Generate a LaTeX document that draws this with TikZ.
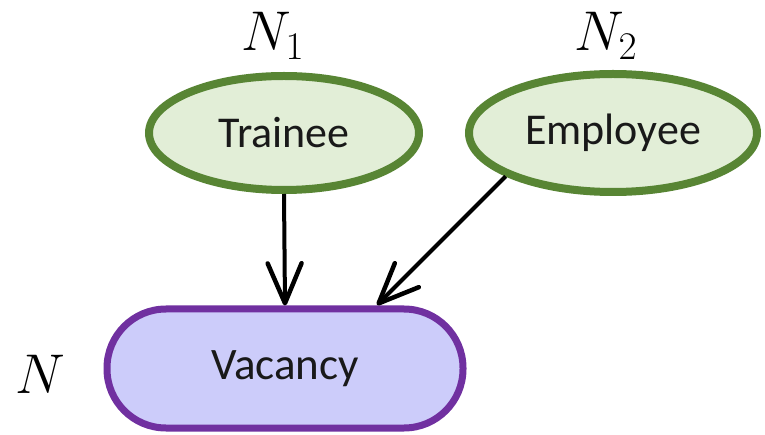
\documentclass[tikz,border=0pt]{standalone}
\usepackage{fix-cm}
\usepackage{fontspec}
\setmainfont{Carlito}
\usetikzlibrary{shapes.geometric,arrows.meta}

\definecolor{leafline}{RGB}{88,133,52}
\definecolor{leaffill}{RGB}{226,238,215}
\definecolor{vacline}{RGB}{112,48,160}
\definecolor{vacfill}{RGB}{204,204,250}
\definecolor{ink}{RGB}{25,25,25}

\tikzset{
  parentnode/.style={ellipse, draw=leafline, fill=leaffill, line width=8pt,
    inner sep=0pt, text=ink, font=\fontsize{44}{48}\selectfont},
  childnode/.style={rectangle, rounded corners=59pt, draw=vacline, fill=vacfill,
    line width=7pt, inner sep=0pt, minimum width=356pt, minimum height=119pt,
    text=ink, font=\fontsize{45}{49}\selectfont},
  varlabel/.style={inner sep=0pt, font=\fontsize{56}{60}\selectfont},
  link/.style={line width=4pt, black,
    -{Straight Barb[length=40pt,width=34pt,line width=4.5pt,round]}}
}

\begin{document}
\begin{tikzpicture}[x=1pt,y=-1pt]
  \useasboundingbox (0,0) rectangle (765,435);

  % parent variables
  \node[parentnode, minimum width=270pt, minimum height=114pt] (trainee) at (284,133) {Trainee};
  \node[parentnode, minimum width=288pt, minimum height=118pt] (employee) at (613,133) {Employee};

  % child variable
  \node[childnode] (vacancy) at (285,368.5) {Vacancy};
  \coordinate (emptip) at (377,305);

  % variable names
  \node[varlabel] (n1) at (273,36) {$N_1$};
  \node[varlabel] (n2) at (606,36) {$N_2$};
  \node[varlabel] (n) at (40,374) {$N$};

  % dependencies
  \draw[link] (trainee.south) -- (vacancy.north);
  \draw[link] (employee.202.6) -- (emptip);
\end{tikzpicture}
\end{document}
